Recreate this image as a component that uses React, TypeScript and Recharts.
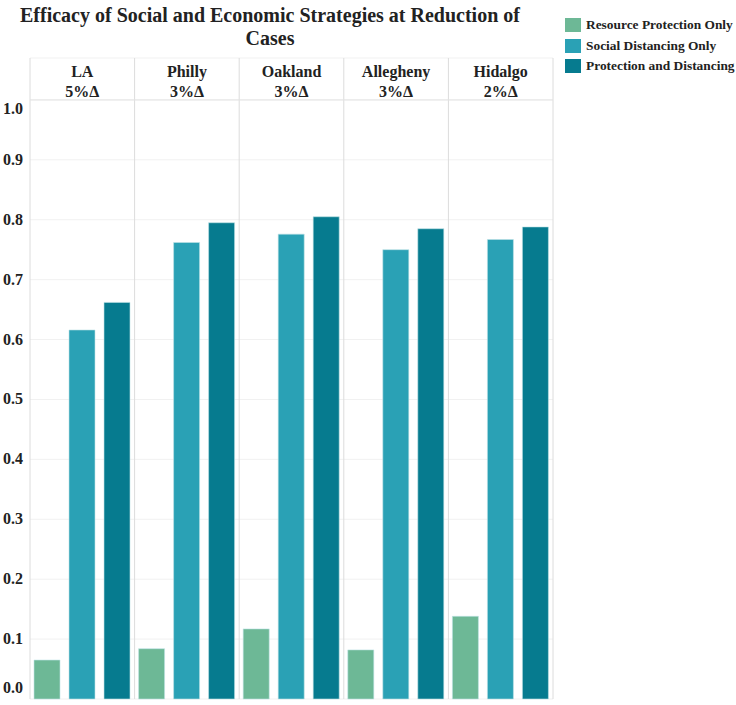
import React from 'react'
import {
  BarChart,
  Bar,
  XAxis,
  YAxis,
  CartesianGrid,
  ReferenceLine,
} from 'recharts'

// facet headers
const regions = ['LA', 'Philly', 'Oakland', 'Allegheny', 'Hidalgo']
const deltas = ['5%Δ', '3%Δ', '3%Δ', '3%Δ', '2%Δ']

// efficacy at reduction of cases, per strategy
const resourceOnly = [0.065, 0.084, 0.117, 0.082, 0.138]
const distancingOnly = [0.616, 0.762, 0.776, 0.75, 0.767]
const protectionAndDistancing = [0.662, 0.795, 0.805, 0.785, 0.788]

const yTicks = [0, 0.1, 0.2, 0.3, 0.4, 0.5, 0.6, 0.7, 0.8, 0.9, 1.0]

const series = [
  { key: 'resource', name: 'Resource Protection Only', color: '#6db896' },
  { key: 'distancing', name: 'Social Distancing Only', color: '#2aa1b5' },
  { key: 'both', name: 'Protection and Distancing', color: '#067b8f' },
]

const data = regions.map((r, i) => ({
  region: r,
  delta: deltas[i],
  resource: resourceOnly[i],
  distancing: distancingOnly[i],
  both: protectionAndDistancing[i],
}))

const FONT = '"Liberation Serif", "Times New Roman", serif'

const HeaderTick = ({ x, y, payload }: any) => {
  const i = regions.indexOf(payload.value)
  return (
    <g>
      <text x={x} y={y + 19} textAnchor="middle" fontFamily={FONT} fontWeight="bold" fontSize={16} fill="#222">
        {regions[i]}
      </text>
      <text x={x} y={y + 39} textAnchor="middle" fontFamily={FONT} fontWeight="bold" fontSize={16} fill="#222">
        {deltas[i]}
      </text>
    </g>
  )
}

const YTick = ({ x, y, payload }: any) => {
  // Tableau pushes the end labels inside the pane
  let dy = 5
  if (payload.value === 1) dy = 14
  if (payload.value === 0) dy = -6
  return (
    <text x={x} y={y + dy} textAnchor="end" fontFamily={FONT} fontWeight="bold" fontSize={16} fill="#222">
      {Number(payload.value).toFixed(1)}
    </text>
  )
}

const LegendBox = () => (
  <div
    style={{
      position: 'absolute',
      left: 565,
      top: 15,
      fontFamily: FONT,
      fontWeight: 'bold',
      fontSize: 13.4,
      color: '#222',
      whiteSpace: 'nowrap',
    }}
  >
    {series.map((s) => (
      <div key={s.key} style={{ display: 'flex', alignItems: 'center', height: 20.5 }}>
        <span style={{ display: 'inline-block', width: 16, height: 14, background: s.color, marginRight: 5 }} />
        {s.name}
      </div>
    ))}
  </div>
)

export default function App() {
  return (
    <div style={{ position: 'absolute', left: 0, top: 0, width: 736, height: 705, background: '#fff' }}>
      <div
        style={{
          position: 'absolute',
          left: 10,
          top: 4,
          width: 520,
          textAlign: 'center',
          fontFamily: FONT,
          fontWeight: 'bold',
          fontSize: 20,
          lineHeight: '23px',
          color: '#222',
        }}
      >
        Efficacy of Social and Economic Strategies at Reduction of
        <br />
        Cases
      </div>
      <LegendBox />
      <BarChart
        width={736}
        height={705}
        data={data}
        margin={{ top: 57, right: 183, bottom: 6, left: 0 }}
        barCategoryGap={4}
        barGap={9}
        style={{ position: 'absolute', left: 0, top: 0 }}
      >
        <CartesianGrid vertical={false} stroke="#f1f1f1" />
        <CartesianGrid
          horizontal={false}
          stroke="#dcdcdc"
          verticalCoordinatesGenerator={({ offset }: any) =>
            [0, 1, 2, 3, 4, 5].map((i) => offset.left + (i * offset.width) / 5)
          }
        />
        <ReferenceLine y={1} stroke="#e4e4e4" />
        <XAxis
          dataKey="region"
          orientation="top"
          height={1}
          axisLine={false}
          tickLine={false}
          tickSize={0}
          tickMargin={0}
          interval={0}
          tick={<HeaderTick />}
        />
        <YAxis
          domain={[0, 1.07]}
          ticks={yTicks}
          width={30}
          axisLine={false}
          tickLine={false}
          tickSize={0}
          tickMargin={7}
          interval={0}
          tick={<YTick />}
        />
        {series.map((s) => (
          <Bar
            key={s.key}
            dataKey={s.key}
            name={s.name}
            fill={s.color}
            stroke="#bfe3e6"
            strokeWidth={0.6}
            isAnimationActive={false}
          />
        ))}
      </BarChart>
    </div>
  )
}
